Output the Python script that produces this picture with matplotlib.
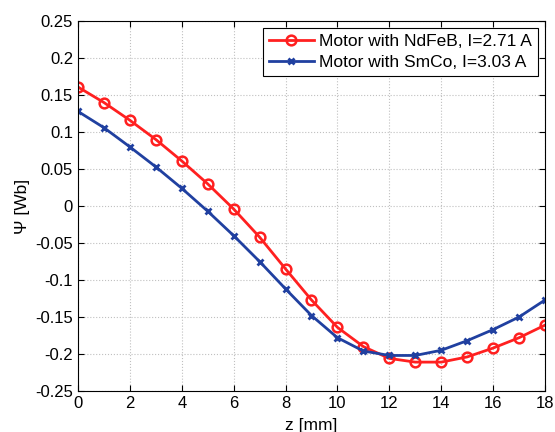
import matplotlib
matplotlib.use('Agg')
import matplotlib.pyplot as plt

plt.rcParams['font.family'] = ['Liberation Sans', 'DejaVu Sans']

# Data
z = list(range(0, 19))
psi_ndfeb = [0.161, 0.140, 0.116, 0.090, 0.061, 0.030, -0.004, -0.042, -0.085, -0.127,
             -0.164, -0.190, -0.206, -0.211, -0.211, -0.204, -0.192, -0.178, -0.161]
psi_smco = [0.128, 0.106, 0.080, 0.053, 0.024, -0.007, -0.040, -0.075, -0.112, -0.148,
            -0.178, -0.196, -0.202, -0.202, -0.195, -0.182, -0.167, -0.150, -0.127]
xticks = [0, 2, 4, 6, 8, 10, 12, 14, 16, 18]
yticks = [-0.25, -0.2, -0.15, -0.1, -0.05, 0, 0.05, 0.1, 0.15, 0.2, 0.25]
ytick_labels = ['-0.25', '-0.2', '-0.15', '-0.1', '-0.05', '0', '0.05', '0.1', '0.15', '0.2', '0.25']

fig = plt.figure(figsize=(5.55, 4.32), dpi=100)
ax = fig.add_axes([0.1405, 0.095, 0.8415, 0.856])

ax.plot(z, psi_ndfeb, color='#ff2020', lw=2, marker='o', ms=7, mfc='none', mew=1.8,
        label='Motor with NdFeB, I=2.71 A')
ax.plot(z, psi_smco, color='#2040a0', lw=2, marker='x', ms=5, mew=2,
        label='Motor with SmCo, I=3.03 A')

ax.set_xlim(0, 18)
ax.set_ylim(-0.25, 0.25)
ax.set_xticks(xticks)
ax.set_yticks(yticks)
ax.set_yticklabels(ytick_labels)
ax.tick_params(direction='in', top=True, right=True, labelsize=12, length=4)
ax.grid(True, linestyle=':', color='#c0c0c0', lw=0.8)
ax.set_xlabel('z [mm]', fontsize=12.5, labelpad=5)
ax.set_ylabel('Ψ [Wb]', fontsize=12.5)

leg = ax.legend(loc='upper right', fontsize=12.5, fancybox=False, framealpha=1,
                edgecolor='black', borderaxespad=0.4, handlelength=2.6,
                borderpad=0.35, labelspacing=0.3, handletextpad=0.3)
leg.get_frame().set_linewidth(0.8)

fig.savefig('out.png', dpi=100)
